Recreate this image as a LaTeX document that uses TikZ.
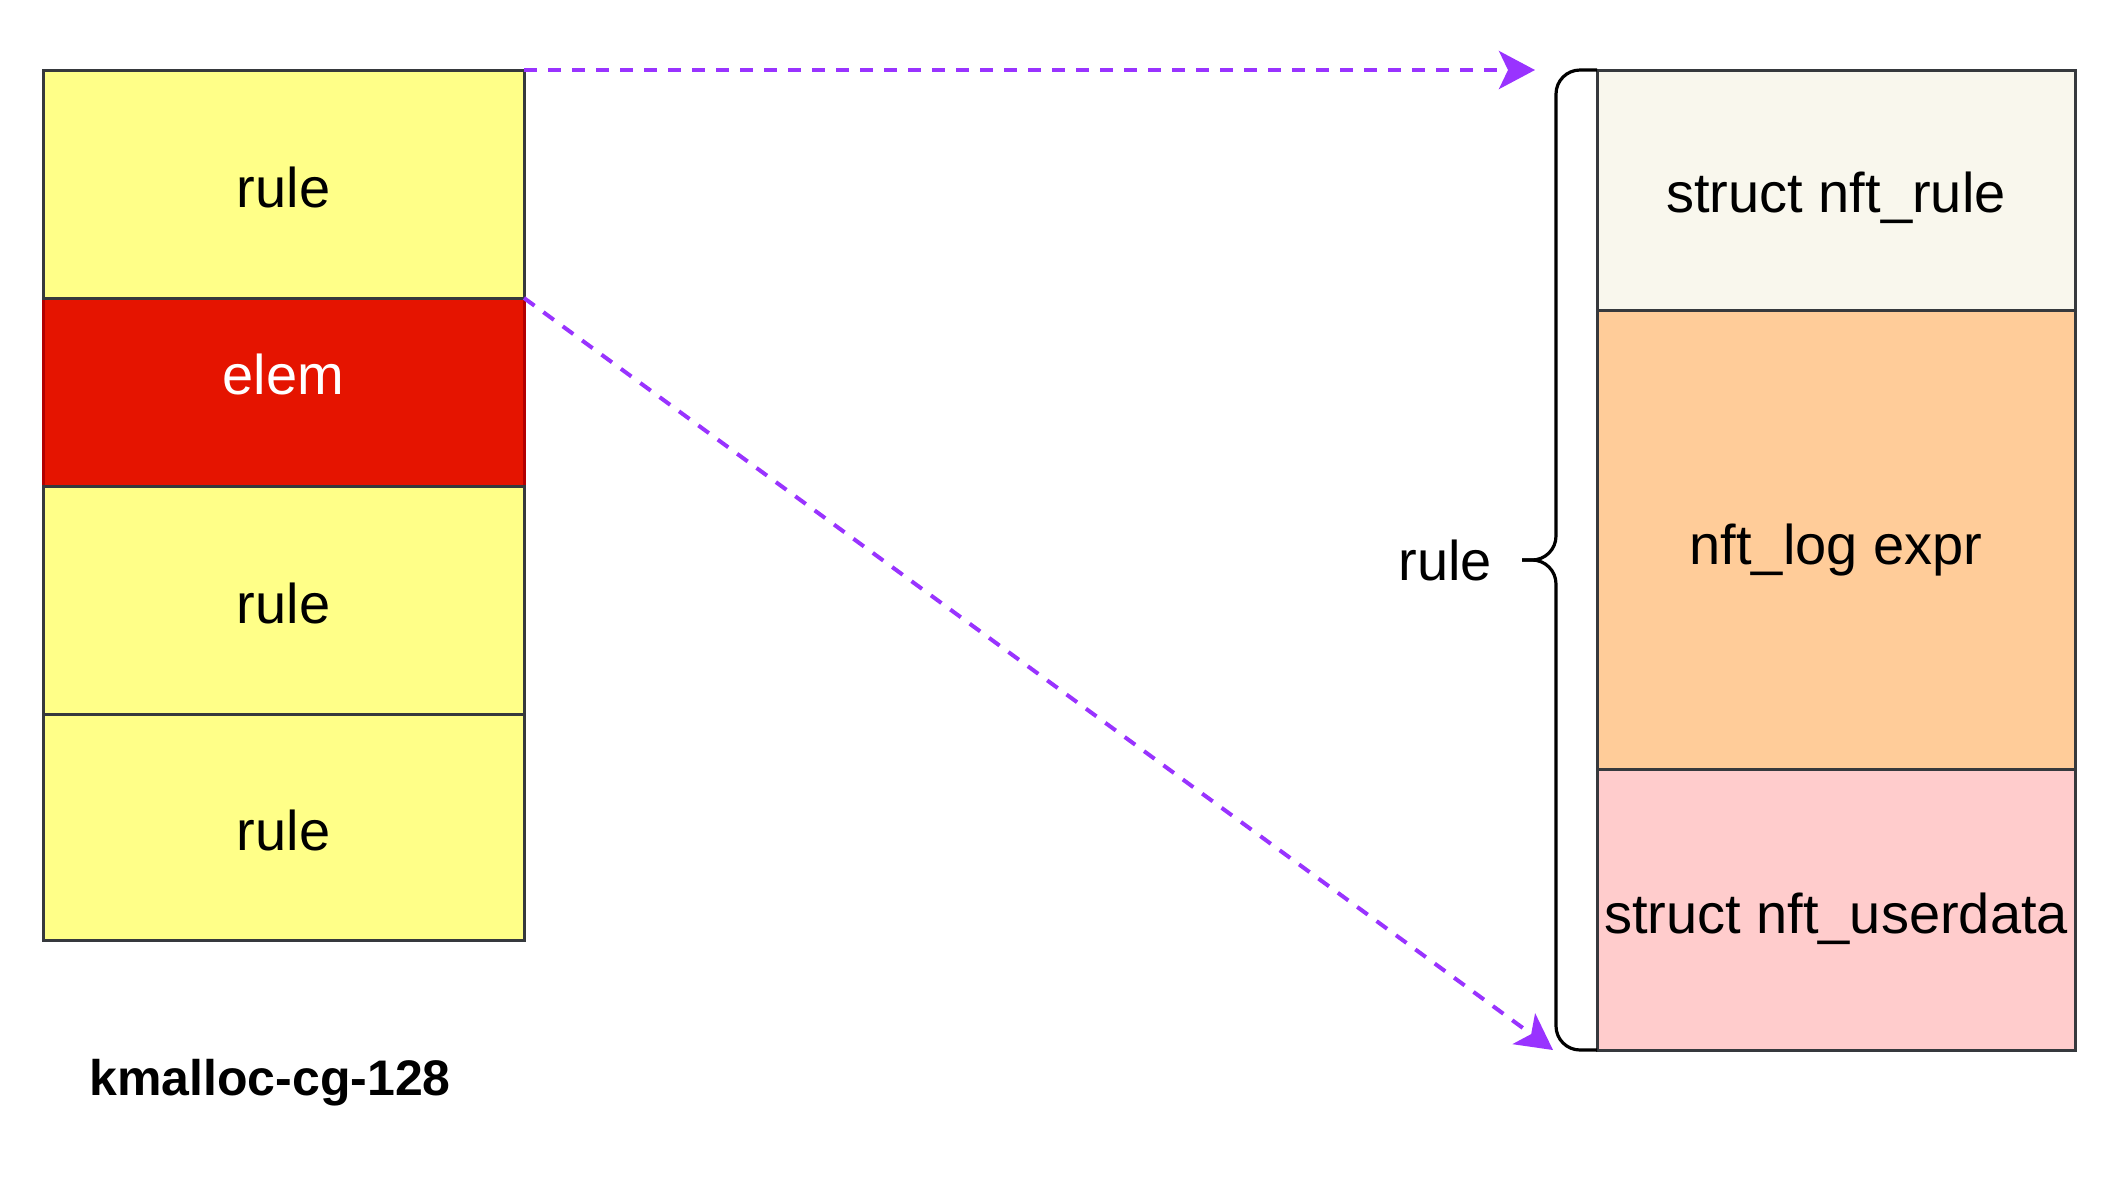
\documentclass[tikz,border=0pt]{standalone}
\usepackage{xcolor}
\usepackage{fontspec}
\setmainfont{Liberation Sans}
\usepackage{tikz}
\usetikzlibrary{arrows.meta,positioning,calc}

\definecolor{cellline}{HTML}{36393D}
\definecolor{slabyellow}{HTML}{FFFF88}
\definecolor{elemred}{HTML}{E51400}
\definecolor{elemborder}{HTML}{B20000}
\definecolor{rulehead}{HTML}{F9F7ED}
\definecolor{logexpr}{HTML}{FFCC99}
\definecolor{udata}{HTML}{FFCCCC}
\definecolor{ptrpurple}{HTML}{9933FF}

\begin{document}
\begin{tikzpicture}[
			x = 0.5pt, y = -0.5pt,
			every node/.style = {inner sep = 0pt, outer sep = 0pt, font = \fontsize{28}{33}\selectfont},
			slot/.style = {draw = cellline, line width = 1.5pt, minimum width = 240.5pt},
			yslot/.style = {slot, fill = slabyellow, text height = 23.5pt, text depth = 0pt},
			ptr/.style = {draw = ptrpurple, line width = 2pt, dash pattern = on 6.5pt off 5.5pt,
				-{Stealth[length = 18pt, width = 19pt, inset = 4.5pt]}},
			bracket/.style = {draw = black, line width = 1.6pt, rounded corners = 12pt},
			]

			\useasboundingbox (0,0) rectangle (2116,1180);

			% kmalloc-cg-128 slab
			\node[slot, fill = elemred, draw = elemborder, text = white, text depth = 18pt, minimum height = 94pt, anchor = north west] (el) at (43,298) {elem};
			\node[yslot, minimum height = 114pt, above = 0pt of el] (r1) {rule};
			\node[yslot, minimum height = 114pt, below = 0pt of el] (r2) {rule};
			\node[yslot, minimum height = 113pt, below = 0pt of r2] (r3) {rule};
			\node[font = \fontsize{25}{30}\selectfont\bfseries] (cache) at (270,1083) {kmalloc-cg-128};

			% layout of one rule
			\node[slot, fill = rulehead, minimum width = 239pt, minimum height = 120pt, text height = 22pt, text depth = 0pt, anchor = north west] (nr) at (1597,70) {struct nft\_rule};
			\node[slot, fill = logexpr, minimum width = 239pt, minimum height = 229.5pt, text height = 25pt, text depth = 0pt, below = 0pt of nr] (lg) {nft\_log expr};
			\node[slot, fill = udata, minimum width = 239pt, minimum height = 140.5pt, text height = 24pt, text depth = 0pt, below = 0pt of lg] (ud) {struct nft\_userdata};

			\coordinate (bmid) at ($(nr.north west)!0.5!(ud.south west)$);
			\coordinate (bcol) at ([xshift = -20.5pt]bmid);
			\coordinate (btip) at ([xshift = -37.5pt]bmid);
			\draw[bracket] (nr.north west) -| (bcol) -- (btip);
			\draw[bracket] (ud.south west) -| (bcol) -- (btip);
			\node[left = 15pt of btip] (rulelbl) {rule};

			\coordinate (hd1) at ([xshift = -31pt]nr.north west);
			\coordinate (hd2) at ([xshift = -22pt]ud.south west);
			\draw[ptr] (r1.north east) -- (hd1);
			\draw[ptr] (el.north east) -- (hd2);

		\end{tikzpicture}
\end{document}
